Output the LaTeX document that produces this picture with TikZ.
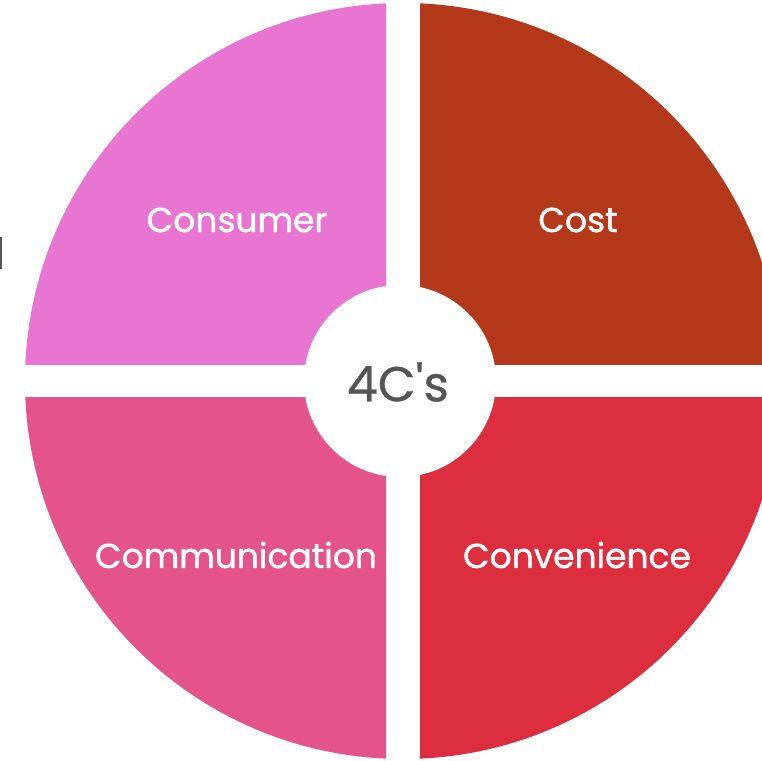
\documentclass[tikz,border=0pt]{standalone}
\usepackage{fontspec}
\setmainfont[Ligatures=NoCommon,FakeBold=0.6]{Poppins}
\newfontfamily\lblfont[Ligatures=NoCommon,FakeBold=1.2]{Poppins}
\usepackage{xcolor}
\usetikzlibrary{positioning}
\definecolor{consumerC}{RGB}{232,117,210}
\definecolor{costC}{RGB}{180,56,26}
\definecolor{commC}{RGB}{228,84,139}
\definecolor{convC}{RGB}{220,46,62}
\definecolor{hubC}{RGB}{85,85,85}

\begin{document}
\begin{tikzpicture}[x=1pt,y=1pt,
  lbl/.style={text=white,font=\lblfont\fontsize{34.5}{40}\selectfont},
  hub/.style={text=hubC,font=\fontsize{49}{56}\selectfont}]
\useasboundingbox (0,0) rectangle (762,760);
\clip (0,0) rectangle (762,760);
\coordinate (ctr) at (403,379);
% four quarters, split by white strips
\begin{scope}
  \clip (0,395) rectangle (386,760);
  \fill[consumerC] (ctr) circle (378);
\end{scope}
\begin{scope}
  \clip (420,395) rectangle (800,760);
  \fill[costC] (ctr) circle (378);
\end{scope}
\begin{scope}
  \clip (0,0) rectangle (386,362);
  \fill[commC] (ctr) circle (378);
\end{scope}
\begin{scope}
  \clip (420,0) rectangle (800,362);
  \fill[convC] (ctr) circle (378);
\end{scope}
\fill[white] (400,379) circle (96);
% cut-off mark at the left edge
\fill[hubC] (0,491) rectangle (1.5,523);
\node[lbl] (consumer) at (237,540) {Consumer};
\node[lbl] (cost) at (578,540) {Cost};
\node[lbl] (comm) at (236,205) {Communication};
\node[lbl] (conv) at (577,205) {Convenience};
\node[hub] (hub) at (398,378) {4C\textquotesingle s};
\end{tikzpicture}
\end{document}
